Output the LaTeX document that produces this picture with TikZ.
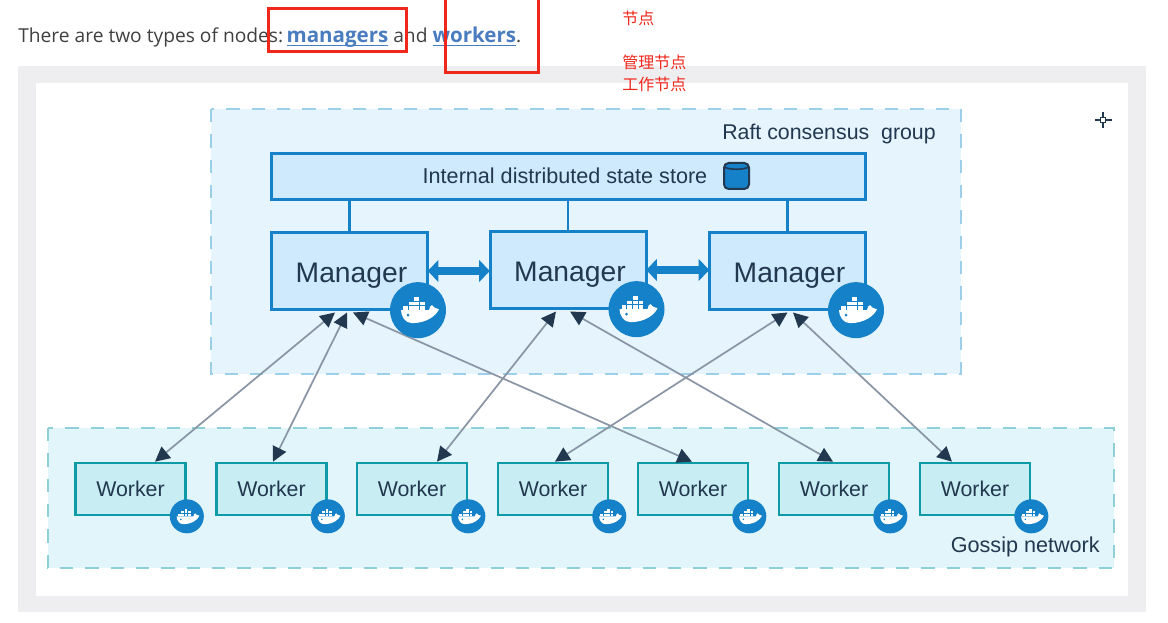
\documentclass[tikz,border=0pt]{standalone}
\usepackage{fontspec}
\setmainfont{Liberation Sans}
\newfontfamily\pagefont{Open Sans}
\newfontfamily\cjk{Noto Sans CJK SC}
\usetikzlibrary{arrows.meta, calc, positioning}
\definecolor{inkblue}{HTML}{22384F}
\definecolor{dockerblue}{HTML}{1581C8}
\definecolor{wteal}{HTML}{0F9AA8}
\definecolor{linkblue}{HTML}{4A7CC0}
\definecolor{markred}{HTML}{F0281C}
\definecolor{linkgray}{HTML}{8A96A6}
\definecolor{mgrfill}{HTML}{CFE9FD}
\definecolor{wrkfill}{HTML}{C8EEF4}
\definecolor{raftfill}{HTML}{E6F4FE}
\definecolor{raftdash}{HTML}{9CCFE8}
\definecolor{gossipfill}{HTML}{E1F5FA}
\definecolor{gossipdash}{HTML}{8FCFD8}
\definecolor{framegray}{HTML}{EEEEF0}
\newcommand{\linkword}[1]{{\fontsize{15.4}{18}\selectfont\color{linkblue}\setbox0=\hbox{\textbf{#1}}\rlap{\rule[-2.6pt]{\wd0}{1.3pt}}\box0}}
\tikzset{
  manager/.style={draw=dockerblue, line width=2.25pt, fill=mgrfill, text=inkblue,
    minimum width=117pt, minimum height=58pt, font=\fontsize{21.2}{24}\selectfont, inner sep=0pt,
    text height=18pt, text depth=0pt},
  worker/.style={draw=wteal, line width=2pt, fill=wrkfill, text=inkblue,
    minimum width=82.5pt, minimum height=39pt, font=\fontsize{16}{19}\selectfont, inner sep=0pt},
  badge/.style={circle, fill=dockerblue, inner sep=0pt},
  groupbox/.style={line width=1.5pt, dash pattern=on 10pt off 9pt},
  syncline/.style={draw=dockerblue, line width=2pt},
  gossip/.style={draw=linkgray, line width=1.3pt,
    {Triangle[color=inkblue, length=11pt, width=11pt]}-{Triangle[color=inkblue, length=11pt, width=11pt]}},
  peer/.style={draw=dockerblue, line width=6.5pt, shorten <=-1pt, shorten >=-1pt,
    {Triangle[length=8pt, width=16pt]}-{Triangle[length=8pt, width=16pt]}},
  note/.style={text=markred, font=\cjk\fontsize{12}{14}\selectfont, anchor=west, inner sep=0pt},
  markbox/.style={draw=markred, line width=2.25pt},
  whale/.pic={
    \fill[white] (-17,0) -- (11,0) .. controls (11,-3) and (13,-5) .. (14,-5)
      .. controls (15,-3) and (17,-2) .. (21,-1) .. controls (18,6) and (8,13) .. (-6,13)
      .. controls (-13,13) and (-17,6) .. (-17,0) -- cycle;
    \fill[dockerblue] (-10,5) circle (1.5);
    \foreach \cx in {-15,-9.3,-3.7,2} \fill[white] (\cx,-4) rectangle ++(4.8,3.6);
    \foreach \cx in {-9.3,-3.7,2} \fill[white] (\cx,-8.5) rectangle ++(4.8,3.6);
    \fill[white] (-3.7,-13) rectangle ++(4.8,3.6);
  }
}
\begin{document}
\begin{tikzpicture}[x=0.75pt, y=-0.75pt]
  \useasboundingbox (0,0) rectangle (1168,623);
  % Page frame
  \fill[white] (0,0) rectangle (1168,623);
  \fill[framegray] (18,66) rectangle (1146,612);
  \fill[white] (36,83) rectangle (1128,596);
  % Page text
  \node[anchor=base west, inner sep=0pt, text=black!75, font=\pagefont\fontsize{14.4}{18}\selectfont] (intro) at (18,43)
    {There are two types of nodes:\hspace{2.5pt}\linkword{managers} and \linkword{workers}.};
  \node[note] (notea) at (622,18) {节点};
  \node[note] (noteb) at (622,62) {管理节点};
  \node[note] (notec) at (622,84) {工作节点};
  % Groups
  \fill[raftfill] (211,109) rectangle (961,374);
  \draw[groupbox, draw=raftdash] (211,109) rectangle (961,374);
  \fill[gossipfill] (48,428) rectangle (1114,568);
  \draw[groupbox, draw=gossipdash] (48,428) rectangle (1114,568);
  \node[anchor=base east, inner sep=0pt, text=inkblue, font=\fontsize{16}{18}\selectfont] (raft) at (936,140) {Raft consensus\ \ group};
  \node[anchor=base east, inner sep=0pt, text=inkblue, font=\fontsize{16.2}{18}\selectfont] (gossipnet) at (1100,552) {Gossip network};
  % State store
  \node[manager, minimum width=445pt, minimum height=35pt, text height=0pt] (store) at (568.5,176.5) {};
  \node[text=inkblue, font=\fontsize{16.2}{19}\selectfont, inner sep=0pt] (storetext) at (565,176) {Internal distributed state store};
  \draw[inkblue, fill=dockerblue, line width=1.5pt, rounded corners=3.5pt] (724,163) rectangle (749,189);
  \draw[inkblue, line width=1.2pt] (724,167) .. controls (730,170) and (743,170) .. (749,167);
  % Managers
  \node[manager] (m1) at (349.5,271) {\hspace{3pt}Manager};
  \node[manager] (m2) at (568,270) {\hspace{3pt}Manager};
  \node[manager] (m3) at (787.5,271) {\hspace{3pt}Manager};
  \foreach \mname in {m1,m2,m3}
    \draw[syncline] (\mname.north) -- (\mname.north |- store.south);
  \draw[peer] (m1.east) -- (m1.east -| m2.west);
  \draw[peer] (m2.east) -- (m2.east -| m3.west);
  % Workers
  \foreach \wname/\wx in {w1/130.5,w2/271.5,w3/412,w4/553,w5/693,w6/834,w7/975}
    \node[worker] (\wname) at (\wx,489) {Worker};
  % Gossip links
  \foreach \wname/\wshift/\mname/\mshift in {w1/24.5/m1/-14.5,w2/1.5/m1/-2.5,w5/-1/m1/3.5,w3/25/m2/-12,w6/-1/m2/2,w4/2/m3/0,w7/-23/m3/5.5}
    \draw[gossip] ([xshift=\wshift*0.75pt]\wname.north) -- ([xshift=\mshift*0.75pt, yshift=-1pt]\mname.south);
  % Docker badges
  \foreach \mname in {m1,m2,m3} {
    \node[badge, minimum size=42pt] (\mname b) at ($(\mname.south east)+(-11,-1)$) {};
    \pic at (\mname b) {whale};
  }
  \foreach \wname in {w1,w2,w3,w4,w5,w6,w7} {
    \node[badge, minimum size=25.5pt] (\wname b) at (\wname.south east) {};
    \pic[scale=0.6] at (\wname b) {whale};
  }
  % Cursor mark
  \draw[inkblue, line width=0.9pt] (1100.5,117.5) rectangle (1105.5,122.5);
  \draw[inkblue, line width=0.9pt] (1095,120) -- (1100.5,120) (1105.5,120) -- (1112,120) (1103,112) -- (1103,117.5) (1103,122.5) -- (1103,128);
  % Red marks
  \draw[markbox] (268,9) rectangle (406,52);
  \draw[markbox] (445,-6) rectangle (538,73);
\end{tikzpicture}
\end{document}
